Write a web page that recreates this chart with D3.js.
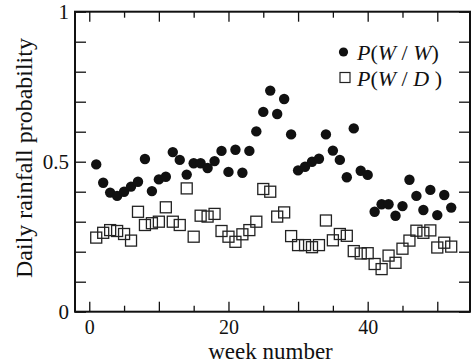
<!DOCTYPE html>
<html>
<head>
<meta charset="utf-8">
<script src="https://cdn.jsdelivr.net/npm/d3@7"></script>
<style>
  html, body { margin: 0; padding: 0; background: #fff; }
  svg { display: block; }
  svg text { font-family: "Liberation Serif", "Times New Roman", "DejaVu Serif", serif !important; fill: #111; }
</style>
</head>
<body>
<div id="chart"></div>
<script>
// week numbers on the x axis
const weeks = [1, 2, 3, 4, 5, 6, 7, 8, 9, 10, 11, 12, 13, 14, 15, 16, 17, 18, 19, 20,
  21, 22, 23, 24, 25, 26, 27, 28, 29, 30, 31, 32, 33, 34, 35, 36, 37, 38, 39, 40,
  41, 42, 43, 44, 45, 46, 47, 48, 49, 50, 51, 52];

// P(W/W) - wet day after wet day
const pWW = [0.491, 0.430, 0.397, 0.386, 0.400, 0.417, 0.433, 0.509, 0.402, 0.441,
  0.450, 0.532, 0.506, 0.457, 0.495, 0.495, 0.479, 0.502, 0.536, 0.466,
  0.540, 0.463, 0.536, 0.601, 0.666, 0.737, 0.659, 0.709, 0.591, 0.471,
  0.483, 0.500, 0.510, 0.591, 0.537, 0.506, 0.448, 0.611, 0.470, 0.456,
  0.333, 0.358, 0.358, 0.320, 0.352, 0.440, 0.386, 0.339, 0.406, 0.322, 0.389, 0.347];

// P(W/D) - wet day after dry day
const pWD = [0.247, 0.263, 0.272, 0.269, 0.259, 0.237, 0.333, 0.289, 0.295, 0.300,
  0.348, 0.300, 0.289, 0.411, 0.250, 0.320, 0.317, 0.326, 0.269, 0.250,
  0.233, 0.258, 0.272, 0.300, 0.409, 0.400, 0.317, 0.331, 0.252, 0.222,
  0.222, 0.215, 0.222, 0.304, 0.238, 0.259, 0.253, 0.202, 0.194, 0.195,
  0.159, 0.142, 0.187, 0.163, 0.210, 0.237, 0.270, 0.263, 0.271, 0.214, 0.230, 0.217];

const xMajor = [0, 10, 20, 30, 40, 50];
const xMinor = [5, 15, 25, 35, 45];
const xLabels = [0, 20, 40];
const yTicks = [0, 0.1, 0.2, 0.3, 0.4, 0.5, 0.6, 0.7, 0.8, 0.9, 1];
const yLabels = [0, 0.5, 1];

const width = 473, height = 364;
const plotL = 75, plotR = 470, plotT = 11.7, plotB = 311.7;
const serif = '"Liberation Serif", "Times New Roman", "DejaVu Serif", serif';

const svg = d3.select("#chart").append("svg")
  .attr("width", width)
  .attr("height", height)
  .attr("font-family", serif);

const x = d3.scaleLinear().domain([-2.05, 54.7]).range([plotL, plotR]);
const y = d3.scaleLinear().domain([0, 1]).range([plotB, plotT]);

// axes, ticks pointing inward
function styleAxis(g) {
  g.attr("font-family", serif);
  g.select(".domain").remove();
  g.selectAll(".tick line").attr("stroke", "#111").attr("stroke-width", 1.3);
  g.selectAll("text").style("font-size", "21px").attr("fill", "#111");
}

svg.append("g").attr("transform", `translate(0,${plotB})`)
  .call(d3.axisBottom(x).tickValues(xMajor).tickSize(-10)
    .tickFormat(d => xLabels.includes(d) ? d : ""))
  .call(styleAxis)
  .call(g => g.selectAll("text").style("font-size", "20px").attr("dy", 0).attr("y", 22.3));
svg.append("g").attr("transform", `translate(0,${plotB})`)
  .call(d3.axisBottom(x).tickValues(xMinor).tickSize(-6).tickFormat(""))
  .call(styleAxis);
svg.append("g").attr("transform", `translate(0,${plotT})`)
  .call(d3.axisTop(x).tickValues(xMajor).tickSize(-10).tickFormat(""))
  .call(styleAxis);
svg.append("g").attr("transform", `translate(0,${plotT})`)
  .call(d3.axisTop(x).tickValues(xMinor).tickSize(-6).tickFormat(""))
  .call(styleAxis);

svg.append("g").attr("transform", `translate(${plotL},0)`)
  .call(d3.axisLeft(y).tickValues(yTicks).tickSize(-11)
    .tickFormat(d => yLabels.includes(d) ? d3.format("")(d) : ""))
  .call(styleAxis)
  .call(g => g.selectAll("text").attr("x", -6));
svg.append("g").attr("transform", `translate(${plotR},0)`)
  .call(d3.axisRight(y).tickValues(yTicks).tickSize(-11).tickFormat(""))
  .call(styleAxis);

// frame
svg.append("rect")
  .attr("x", plotL).attr("y", plotT)
  .attr("width", plotR - plotL).attr("height", plotB - plotT)
  .attr("fill", "none").attr("stroke", "#111").attr("stroke-width", 2);

// P(W/D) open squares
const sq = 11;
svg.append("g").selectAll("rect")
  .data(weeks)
  .enter().append("rect")
  .attr("x", d => x(d) - sq / 2)
  .attr("y", (d, i) => y(pWD[i]) - sq / 2)
  .attr("width", sq).attr("height", sq)
  .attr("fill", "none")
  .attr("stroke", "#222")
  .attr("stroke-width", 1.3);

// P(W/W) filled circles
svg.append("g").selectAll("circle")
  .data(weeks)
  .enter().append("circle")
  .attr("cx", d => x(d))
  .attr("cy", (d, i) => y(pWW[i]))
  .attr("r", 5.2)
  .attr("fill", "#111");

// axis titles
svg.append("text")
  .attr("x", (plotL + plotR) / 2 - 2).attr("y", 359)
  .attr("text-anchor", "middle")
  .style("font-size", "23px")
  .text("week number");

svg.append("text")
  .attr("transform", "translate(32,158) rotate(-90)")
  .attr("text-anchor", "middle")
  .style("font-size", "24px")
  .text("Daily rainfall probability");

// legend
const legend = svg.append("g");
legend.append("circle").attr("cx", 343.5).attr("cy", 52).attr("r", 4.6).attr("fill", "#111");
legend.append("rect").attr("x", 340).attr("y", 72.5).attr("width", 10).attr("height", 10)
  .attr("fill", "none").attr("stroke", "#222").attr("stroke-width", 1.2);

function legendLabel(yPos, second) {
  const t = legend.append("text").attr("x", 357).attr("y", yPos).style("font-size", "22px");
  t.append("tspan").style("font-style", "italic").text("P");
  t.append("tspan").text("(");
  t.append("tspan").style("font-style", "italic").text("W");
  t.append("tspan").text(" / ");
  t.append("tspan").style("font-style", "italic").text(second);
  t.append("tspan").text(second === "D" ? " )" : ")");
}
legendLabel(60, "W");
legendLabel(86, "D");
</script>
</body>
</html>
